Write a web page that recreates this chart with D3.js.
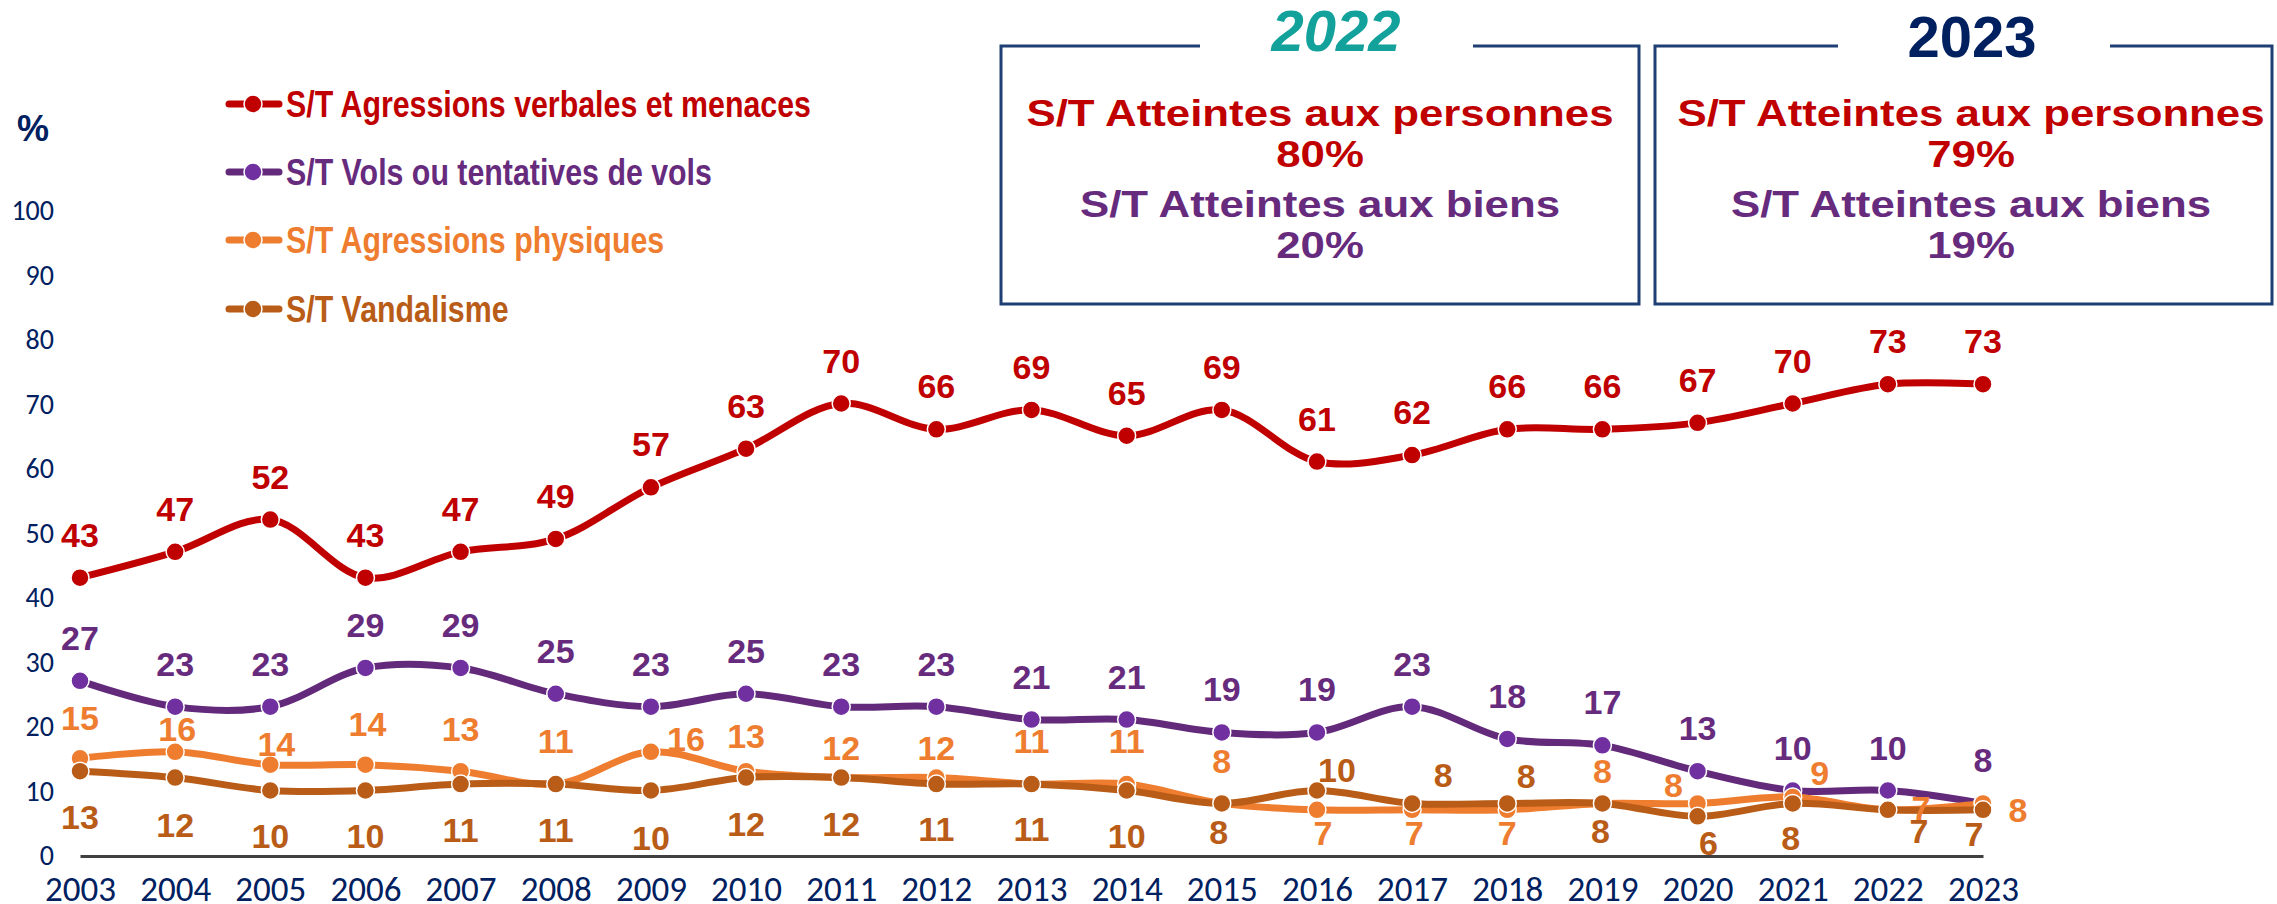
<!DOCTYPE html>
<html>
<head>
<meta charset="utf-8">
<script src="https://cdn.jsdelivr.net/npm/d3@7"></script>
<style>
  html, body { margin: 0; padding: 0; background: #fff; }
  svg { display: block; }
</style>
</head>
<body>
<svg id="chart" width="2277" height="904"></svg>
<script>
// ---------------- DATA ----------------
const years = [2003, 2004, 2005, 2006, 2007, 2008, 2009, 2010, 2011, 2012, 2013,
               2014, 2015, 2016, 2017, 2018, 2019, 2020, 2021, 2022, 2023];
const verbales   = [43, 47, 52, 43, 47, 49, 57, 63, 70, 66, 69, 65, 69, 61, 62, 66, 66, 67, 70, 73, 73];
const vols       = [27, 23, 23, 29, 29, 25, 23, 25, 23, 23, 21, 21, 19, 19, 23, 18, 17, 13, 10, 10, 8];
const physiques  = [15, 16, 14, 14, 13, 11, 16, 13, 12, 12, 11, 11, 8, 7, 7, 7, 8, 8, 9, 7, 8];
const vandalisme = [13, 12, 10, 10, 11, 11, 10, 12, 12, 11, 11, 10, 8, 10, 8, 8, 8, 6, 8, 7, 7];
const seriesNames = ["S/T Agressions verbales et menaces", "S/T Vols ou tentatives de vols",
                     "S/T Agressions physiques", "S/T Vandalisme"];
const yTicks = [0, 10, 20, 30, 40, 50, 60, 70, 80, 90, 100];
const boxYears = ["2022", "2023"];
const boxPersonnes = ["80%", "79%"];
const boxBiens = ["20%", "19%"];
const labelPersonnes = "S/T Atteintes aux personnes";
const labelBiens = "S/T Atteintes aux biens";

// ---------------- STYLE / PLACEMENT ----------------
const RED = "#C00000", PURPLE_LINE = "#632A7B", PURPLE_MK = "#7030A0", PURPLE_TXT = "#672B7E",
      ORANGE = "#EE7D2F", BROWN = "#B95C17", NAVY = "#002060", TEAL = "#12A19B", BOX = "#1F3E74";

// label offsets (dx, dy of label centre from the point), per series
const offAbove = years.map(() => [0, -43]);
const offOrange = [[0,-40],[2,-23],[6,-21],[2,-41],[0,-42],[0,-43],[35,-13],[0,-35],[0,-30],[0,-30],
                   [0,-43],[0,-43],[0,-42],[6,23],[2,23],[0,23],[0,-32],[-24,-18],[27,-24],[33,-2],[35,7]];
const offBrown = [[0,46],[0,47],[0,45],[0,45],[0,46],[0,46],[0,47],[0,46],[0,46],[0,45],
                  [0,45],[0,45],[-3,29],[20,-21],[31,-28],[19,-27],[-2,28],[11,27],[-2,35],[31,21],[-9,24]];

const series = [
  { name: seriesNames[0], values: verbales,   line: RED,         marker: RED,       text: RED,        offs: offAbove },
  { name: seriesNames[1], values: vols,       line: PURPLE_LINE, marker: PURPLE_MK, text: PURPLE_TXT, offs: offAbove },
  { name: seriesNames[2], values: physiques,  line: ORANGE,      marker: ORANGE,    text: ORANGE,     offs: offOrange },
  { name: seriesNames[3], values: vandalisme, line: BROWN,       marker: BROWN,     text: BROWN,      offs: offBrown }
];

const svg = d3.select("#chart");
const x = d3.scaleLinear().domain([years[0], years[years.length - 1]]).range([80, 1983]);
const y = d3.scaleLinear().domain([0, 100]).range([855, 210]);

const tickFont = "Carlito, Calibri, 'Liberation Sans', sans-serif";
const boldFont = "'Liberation Sans', Arial, sans-serif";

// "%" label
svg.append("text").attr("x", 17).attr("y", 141)
  .attr("font-family", boldFont).attr("font-weight", "bold").attr("font-size", 36)
  .attr("fill", NAVY).text("%");

// Y axis tick labels
const yAxis = d3.axisLeft(y).tickValues(yTicks).tickSize(0).tickPadding(0);
const gy = svg.append("g").attr("transform", "translate(54,0)").call(yAxis);
gy.select(".domain").remove();
gy.selectAll("text").attr("font-family", tickFont).attr("font-size", 28)
  .attr("fill", NAVY).attr("dy", "0.34em");

// X axis
const xAxis = d3.axisBottom(x).tickValues(years).tickFormat(d3.format("d")).tickSize(0).tickPadding(0);
const gx = svg.append("g").attr("transform", "translate(0,856)").call(xAxis);
gx.select(".domain").attr("stroke", "#404040").attr("stroke-width", 3);
gx.selectAll("text").attr("font-family", tickFont).attr("font-size", 35)
  .attr("fill", NAVY).attr("dy", null).attr("y", 45);

// Lines, markers, labels
const lineGen = d3.line().x((d, i) => x(years[i])).y(d => y(d)).curve(d3.curveCatmullRom.alpha(0.5));

series.forEach(s => {
  const g = svg.append("g");
  g.append("path").datum(s.values).attr("d", lineGen)
    .attr("fill", "none").attr("stroke", s.line).attr("stroke-width", 7)
    .attr("stroke-linejoin", "round").attr("stroke-linecap", "round");
  g.selectAll("circle").data(s.values).join("circle")
    .attr("cx", (d, i) => x(years[i])).attr("cy", d => y(d)).attr("r", 9)
    .attr("fill", s.marker).attr("stroke", "#fff").attr("stroke-width", 1.5);
});
series.forEach(s => {
  svg.append("g").selectAll("text").data(s.values).join("text")
    .attr("x", (d, i) => x(years[i]) + s.offs[i][0])
    .attr("y", (d, i) => y(d) + s.offs[i][1] + 12)
    .attr("text-anchor", "middle")
    .attr("font-family", boldFont).attr("font-weight", "bold").attr("font-size", 34)
    .attr("fill", s.text).text(d => d);
});

// Legend
const legendRows = [104, 172, 240, 309];
const legendMarker = [RED, PURPLE_MK, ORANGE, BROWN];
const legendText = [RED, PURPLE_TXT, ORANGE, BROWN];
const legendLine = [RED, PURPLE_LINE, ORANGE, BROWN];
series.forEach((s, i) => {
  const ly = legendRows[i];
  const g = svg.append("g");
  g.append("line").attr("x1", 229).attr("x2", 279).attr("y1", ly).attr("y2", ly)
    .attr("stroke", legendLine[i]).attr("stroke-width", 7).attr("stroke-linecap", "round");
  g.append("circle").attr("cx", 253).attr("cy", ly).attr("r", 9).attr("fill", legendMarker[i])
    .attr("stroke", "#fff").attr("stroke-width", 1.5);
  g.append("text").attr("transform", `translate(286,${ly + 13}) scale(0.82,1)`)
    .attr("font-family", boldFont)
    .attr("font-weight", "bold").attr("font-size", 37).attr("fill", legendText[i]).text(s.name);
});

// Boxes
const boxes = [
  { left: 1001, right: 1639, gap: [1200, 1473], cx: 1320, tcx: 1336, tBase: 51, tColor: TEAL, italic: true },
  { left: 1655, right: 2272, gap: [1838, 2110], cx: 1971, tcx: 1972, tBase: 57, tColor: NAVY, italic: false }
];
const boxTop = 46, boxBottom = 304;
boxes.forEach((b, i) => {
  const p = d3.path();
  p.moveTo(b.gap[0], boxTop); p.lineTo(b.left, boxTop); p.lineTo(b.left, boxBottom);
  p.lineTo(b.right, boxBottom); p.lineTo(b.right, boxTop); p.lineTo(b.gap[1], boxTop);
  svg.append("path").attr("d", p.toString()).attr("fill", "none")
    .attr("stroke", BOX).attr("stroke-width", 3);
  svg.append("text").attr("x", b.tcx).attr("y", b.tBase).attr("text-anchor", "middle")
    .attr("font-family", boldFont).attr("font-weight", "bold")
    .attr("font-style", b.italic ? "italic" : "normal").attr("font-size", 58)
    .attr("fill", b.tColor).text(boxYears[i]);
  const lines = [
    { t: labelPersonnes, base: 126, c: RED },
    { t: boxPersonnes[i], base: 167, c: RED },
    { t: labelBiens, base: 217, c: PURPLE_TXT },
    { t: boxBiens[i], base: 258, c: PURPLE_TXT }
  ];
  lines.forEach(l => {
    svg.append("text").attr("transform", `translate(${b.cx},${l.base}) scale(1.2,1)`)
      .attr("text-anchor", "middle").attr("font-family", boldFont).attr("font-weight", "bold")
      .attr("font-size", 36.5).attr("fill", l.c).text(l.t);
  });
});
</script>
</body>
</html>
